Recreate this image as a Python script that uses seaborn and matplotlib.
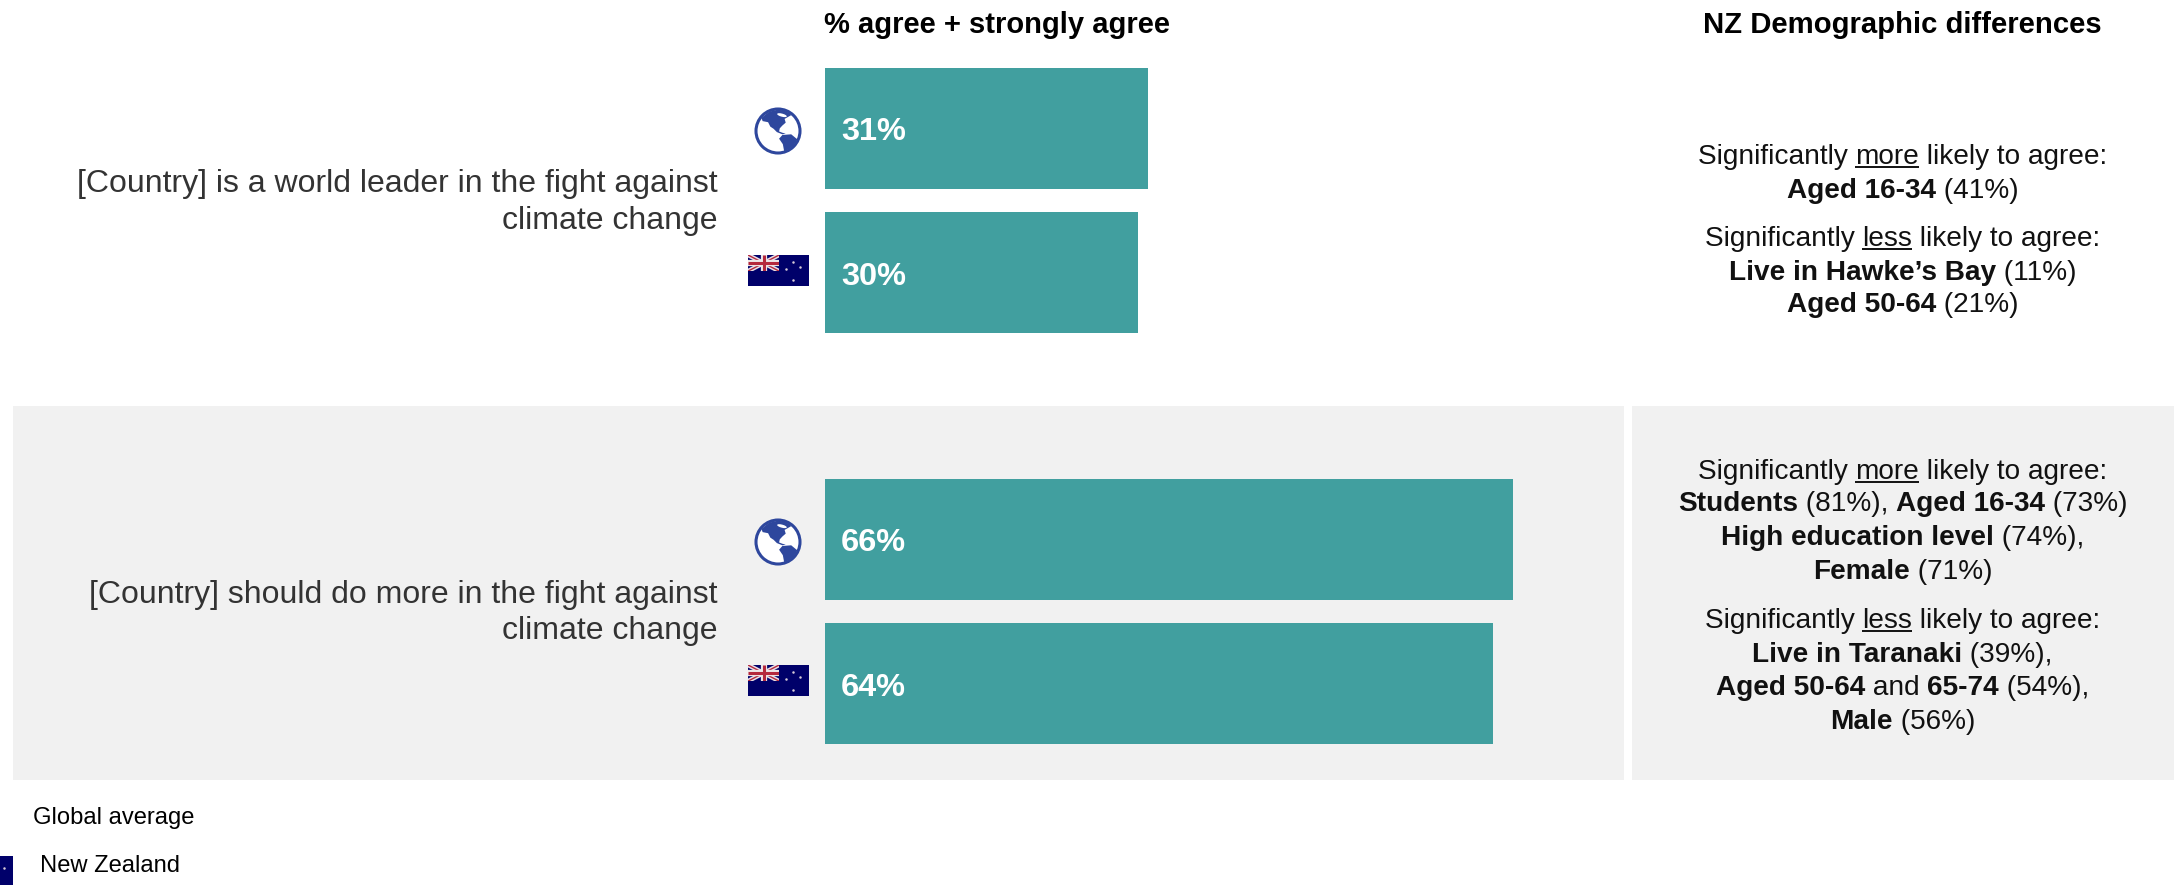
import matplotlib
matplotlib.use("Agg")
import matplotlib.pyplot as plt
from matplotlib.patches import Circle, Ellipse, Polygon, Rectangle
import pandas as pd
import seaborn as sns

# Survey values
scopes = ["Global average", "New Zealand"]
leader_pct = [31, 30]
do_more_pct = [66, 64]
statements = [
    "[Country] is a world leader in the fight against\nclimate change",
    "[Country] should do more in the fight against\nclimate change",
]
header_left = "% agree + strongly agree"
header_right = "NZ Demographic differences"

# Demographic call-outs: each line is a list of (text, style) runs
R, B, U = "regular", "bold", "underline"
notes_leader = [
    (156, [("Significantly ", R), ("more", U), (" likely to agree:", R)]),
    (190, [("Aged 16-34", B), (" (41%)", R)]),
    (238, [("Significantly ", R), ("less", U), (" likely to agree:", R)]),
    (272, [("Live in Hawke\u2019s Bay", B), (" (11%)", R)]),
    (304, [("Aged 50-64", B), (" (21%)", R)]),
]
notes_do_more = [
    (471, [("Significantly ", R), ("more", U), (" likely to agree:", R)]),
    (503, [("Students", B), (" (81%), ", R), ("Aged 16-34", B), (" (73%)", R)]),
    (537, [("High education level", B), (" (74%),", R)]),
    (571, [("Female", B), (" (71%)", R)]),
    (620, [("Significantly ", R), ("less", U), (" likely to agree:", R)]),
    (654, [("Live in Taranaki", B), (" (39%),", R)]),
    (687, [("Aged 50-64", B), (" and ", R), ("65-74", B), (" (54%),", R)]),
    (721, [("Male", B), (" (56%)", R)]),
]

TEAL = "#419f9f"
PANEL = "#f1f1f1"
GLOBE = "#2e479d"
NAVY = "#00006a"
FLAG_RED = "#b5283c"
W, H = 2174, 885

sns.set_theme(style="white")
plt.rcParams["font.family"] = ["Liberation Sans", "DejaVu Sans"]

fig = plt.figure(figsize=(W / 100, H / 100), dpi=100, facecolor="white")

# Background canvas in pixel units, y growing downwards
canvas = fig.add_axes([0, 0, 1, 1], zorder=0)
canvas.set_xlim(0, W)
canvas.set_ylim(H, 0)
canvas.axis("off")

canvas.add_patch(Rectangle((12.5, 406), 1611, 374, fc=PANEL, ec="none"))
canvas.add_patch(Rectangle((1632, 406), 542, 374, fc=PANEL, ec="none"))


def bar_panel(top, values):
    """Two horizontal bars on their own axes, with the value written inside."""
    height = 289
    ax = fig.add_axes([825 / W, 1 - (top + height) / H, 1043 / W, height / H], zorder=1)
    ax.patch.set_alpha(0)
    df = pd.DataFrame({"scope": scopes, "pct": values})
    sns.barplot(data=df, y="scope", x="pct", orient="h", color=TEAL, saturation=1,
                width=0.84, linewidth=0, ax=ax)
    ax.set_xlim(0, 100)
    ax.set_ylim(1.5, -0.5)
    ax.axis("off")
    for i, v in enumerate(values):
        ax.annotate(f"{v}%", xy=(0, i), xytext=(11.5, -3), textcoords="offset points",
                    color="white", fontsize=23.4, fontweight="bold", va="center", ha="left")


bar_panel(56, leader_pct)
bar_panel(467, do_more_pct)

# Headers
canvas.text(997, 25, header_left, fontsize=21, fontweight="bold", ha="center", va="center", color="black")
canvas.text(1902, 25, header_right, fontsize=21.1, fontweight="bold", ha="center", va="center", color="black")

# Statements
canvas.text(718, 202.5, statements[0], fontsize=23, ha="right", va="center", color="#333333", linespacing=1.3)
canvas.text(717.5, 613, statements[1], fontsize=23, ha="right", va="center", color="#333333", linespacing=1.3)


def text_width(s, **kw):
    renderer = fig.canvas.get_renderer()
    mark = canvas.text(0, 0, "|", **kw)
    both = canvas.text(0, 0, s + "|", **kw)
    w = both.get_window_extent(renderer).width - mark.get_window_extent(renderer).width
    mark.remove()
    both.remove()
    return w


def rich_line(cx, y, runs, fontsize=20.2):
    """Centre one line made of regular, bold and underlined runs."""
    styled = [(t, s, {"fontsize": fontsize, "fontweight": "bold" if s == B else "normal"}) for t, s in runs]
    widths = [text_width(t, **kw) for t, _, kw in styled]
    x = cx - sum(widths) / 2
    for (t, s, kw), w in zip(styled, widths):
        canvas.text(x, y + 8, t, ha="left", va="baseline", color="#111111", **kw)
        if s == U:
            canvas.plot([x, x + w], [y + 11, y + 11], color="#111111", lw=1.4, solid_capstyle="butt")
        x += w


for y, runs in notes_leader + notes_do_more:
    rich_line(1902.5, y, runs)


def draw_globe(cx, cy, r=22):
    """Outlined globe showing the Americas."""
    canvas.add_patch(Circle((cx, cy), r, fc="white", ec=GLOBE, lw=2.2))
    north = [(-.75, -.6), (-.4, -.88), (0, -.97), (.45, -.92), (.6, -.72), (.3, -.55), (.35, -.38),
             (.2, -.25), (.08, -.12), (.05, .02), (.2, .08), (.35, .12), (.2, .15), (-.05, .05),
             (-.2, -.1), (-.35, -.2), (-.45, -.4), (-.7, -.45)]
    south = [(.2, .18), (.6, .15), (.88, .38), (.8, .62), (.5, .85), (.28, .92), (.22, .6), (.05, .35)]
    clip = Circle((cx, cy), r * 0.96, transform=canvas.transData)
    for shape in (north, south):
        poly = Polygon([(cx + px * r, cy + py * r) for px, py in shape], fc=GLOBE, ec="none")
        canvas.add_patch(poly)
        poly.set_clip_path(clip)
    # Gap between Greenland and the mainland
    canvas.add_patch(Ellipse((cx + .18 * r, cy - .72 * r), .45 * r, .14 * r, angle=15, fc="white", ec="none"))


def draw_flag(x, y, w=61, h=31):
    """New Zealand flag: navy field, Union canton and four stars."""
    canvas.add_patch(Rectangle((x, y), w, h, fc=NAVY, ec="none", zorder=2))
    cw, ch = w * 0.51, h * 0.52
    clip = Rectangle((x, y), cw, ch, transform=canvas.transData)
    for (x0, y0, x1, y1, col, lw) in [
        (x, y, x + cw, y + ch, "#e8dfe6", 3.2),
        (x, y + ch, x + cw, y, "#e8dfe6", 3.2),
        (x, y, x + cw, y + ch, FLAG_RED, 1),
        (x, y + ch, x + cw, y, FLAG_RED, 1),
        (x + cw / 2, y, x + cw / 2, y + ch, "#efe6e6", 4.5),
        (x, y + ch / 2, x + cw, y + ch / 2, "#efe6e6", 4.5),
        (x + cw / 2, y, x + cw / 2, y + ch, FLAG_RED, 2.2),
        (x, y + ch / 2, x + cw, y + ch / 2, FLAG_RED, 2.2),
    ]:
        line, = canvas.plot([x0, x1], [y0, y1], color=col, lw=lw, solid_capstyle="butt", zorder=3)
        line.set_clip_path(clip)
    for fx, fy in [(0.63, 0.44), (0.73, 0.22), (0.86, 0.40), (0.74, 0.82)]:
        canvas.plot(x + fx * w, y + fy * h, marker="o", ms=1.8, mfc="#d8cbd8", mec="none", zorder=4)


draw_globe(778, 131)
draw_globe(778, 542)
draw_flag(748, 255)
draw_flag(748, 665)

# Key at the foot of the chart
canvas.text(33, 818, scopes[0], fontsize=17.1, va="center", ha="left", color="black")
draw_flag(-48, 856)
canvas.text(39.5, 866, scopes[1], fontsize=17.1, va="center", ha="left", color="black")

fig.savefig("out.png", dpi=100, facecolor="white")
